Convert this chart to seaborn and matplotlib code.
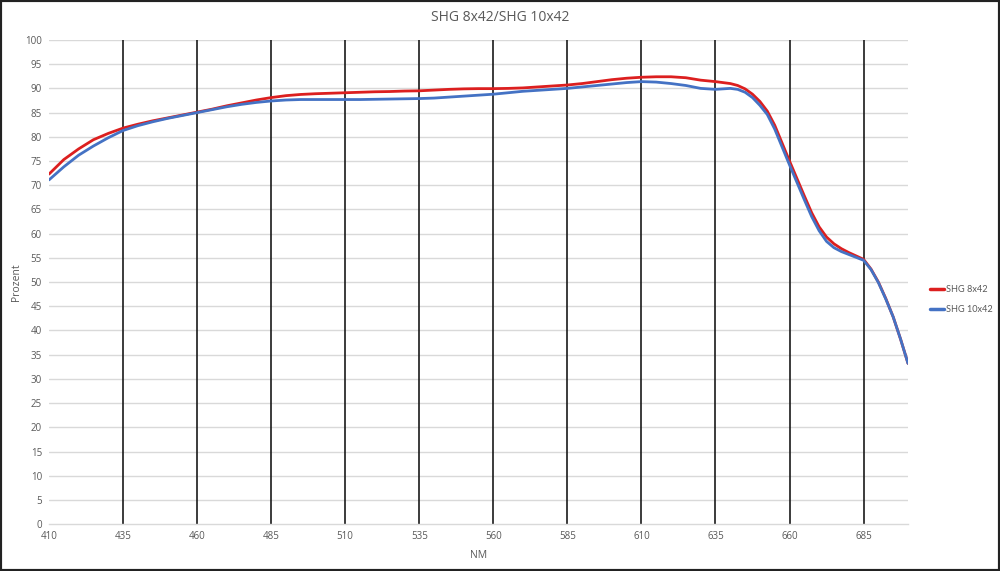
import matplotlib
matplotlib.use("Agg")
import matplotlib.pyplot as plt
import seaborn as sns
import pandas as pd
from matplotlib.patches import Rectangle

# 5 nm steps up to 640, finer readings on the steep red edge
wavelength = list(range(410, 645, 5)) + [
    642.5, 645, 647.5, 650, 652.5, 655, 657.5, 660, 662.5, 665, 667.5, 670,
    672.5, 675, 677.5, 680, 682.5, 685, 687.5, 690, 692.5, 695, 697.5, 700]

shg_8x42 = [72.3, 75.3, 77.5, 79.4, 80.7, 81.8, 82.6, 83.3, 83.9, 84.5,
            85.1, 85.7, 86.4, 87.0, 87.6, 88.1, 88.5, 88.75, 88.9, 89.0,
            89.1, 89.2, 89.3, 89.35, 89.45, 89.5, 89.65, 89.8, 89.9, 89.95,
            89.95, 90.0, 90.1, 90.3, 90.5, 90.7, 91.0, 91.4, 91.8, 92.1,
            92.3, 92.4, 92.4, 92.2, 91.7, 91.4, 91.0,
            90.6, 89.9, 88.8, 87.3, 85.3, 82.4, 78.7, 75.0, 71.4, 67.8, 64.3, 61.4,
            59.3, 57.9, 56.9, 56.1, 55.4, 54.7, 52.7, 50.0, 46.6, 42.8, 38.2, 33.2]

shg_10x42 = [71.1, 73.8, 76.2, 78.1, 79.8, 81.3, 82.3, 83.1, 83.8, 84.4,
             85.0, 85.6, 86.2, 86.7, 87.1, 87.4, 87.6, 87.7, 87.7, 87.7,
             87.7, 87.7, 87.75, 87.8, 87.85, 87.9, 88.0, 88.2, 88.4, 88.6,
             88.8, 89.1, 89.4, 89.6, 89.8, 90.0, 90.3, 90.6, 90.9, 91.2,
             91.4, 91.3, 91.0, 90.6, 90.0, 89.8, 90.0,
             89.8, 89.2, 88.1, 86.5, 84.6, 81.6, 77.9, 74.2, 70.6, 67.0, 63.5, 60.6,
             58.4, 57.1, 56.3, 55.7, 55.1, 54.5, 52.6, 49.9, 46.5, 42.8, 38.2, 33.2]

series_names = ["SHG 8x42", "SHG 10x42"]
x_ticks = list(range(410, 700, 25))
y_ticks = list(range(0, 101, 5))

df = pd.DataFrame({
    "NM": wavelength * 2,
    "Prozent": shg_8x42 + shg_10x42,
    "Serie": [series_names[0]] * len(wavelength) + [series_names[1]] * len(wavelength),
})

sns.set_style("white")
plt.rcParams["font.family"] = ["Open Sans", "DejaVu Sans"]
grey = "#595959"
red, blue = "#dc1f1f", "#4472c4"

fig = plt.figure(figsize=(10, 5.71), dpi=100)
ax = fig.add_axes([0.049, 0.082, 0.859, 0.848])

# light horizontal grid
for yv in y_ticks[1:]:
    ax.axhline(yv, color="#d9d9d9", lw=1.0, zorder=0)
# black vertical lines
for xv in x_ticks[1:]:
    ax.axvline(xv, color="#1a1a1a", lw=1.2, zorder=1)

sns.lineplot(data=df, x="NM", y="Prozent", hue="Serie",
             palette=[red, blue], linewidth=2.0, ax=ax,
             legend=False, zorder=3)
for ln in ax.get_lines():
    ln.set_solid_joinstyle("round")
    ln.set_solid_capstyle("round")

ax.set_xlim(410, 700)
ax.set_ylim(0, 100)
ax.set_xticks(x_ticks)
ax.set_yticks(y_ticks)
ax.tick_params(axis="both", length=0, labelsize=7, colors=grey, pad=5)
for s in ["top", "right", "left"]:
    ax.spines[s].set_visible(False)
ax.spines["bottom"].set_color("#d9d9d9")
ax.spines["bottom"].set_linewidth(1.0)

ax.set_xlabel("NM", fontsize=7.5, color=grey, labelpad=6)
ax.set_ylabel("Prozent", fontsize=7.5, color=grey, labelpad=2)
fig.text(0.5, 0.97, "SHG 8x42/SHG 10x42", ha="center", va="center",
         fontsize=10, color=grey)

handles = [plt.Line2D([], [], color=red, lw=2.5),
           plt.Line2D([], [], color=blue, lw=2.5)]
fig.legend(handles, series_names, loc="center left", bbox_to_anchor=(0.926, 0.475),
           frameon=False, prop={"family": "Lato", "size": 6.6}, labelcolor=grey,
           handlelength=1.6, handletextpad=0.15, labelspacing=1.2,
           borderpad=0.2, borderaxespad=0.2)

fig.patches.append(Rectangle((0, 0), 1, 1, transform=fig.transFigure,
                             fill=False, edgecolor="#222222", lw=3))

fig.savefig("out.png", dpi=100)
